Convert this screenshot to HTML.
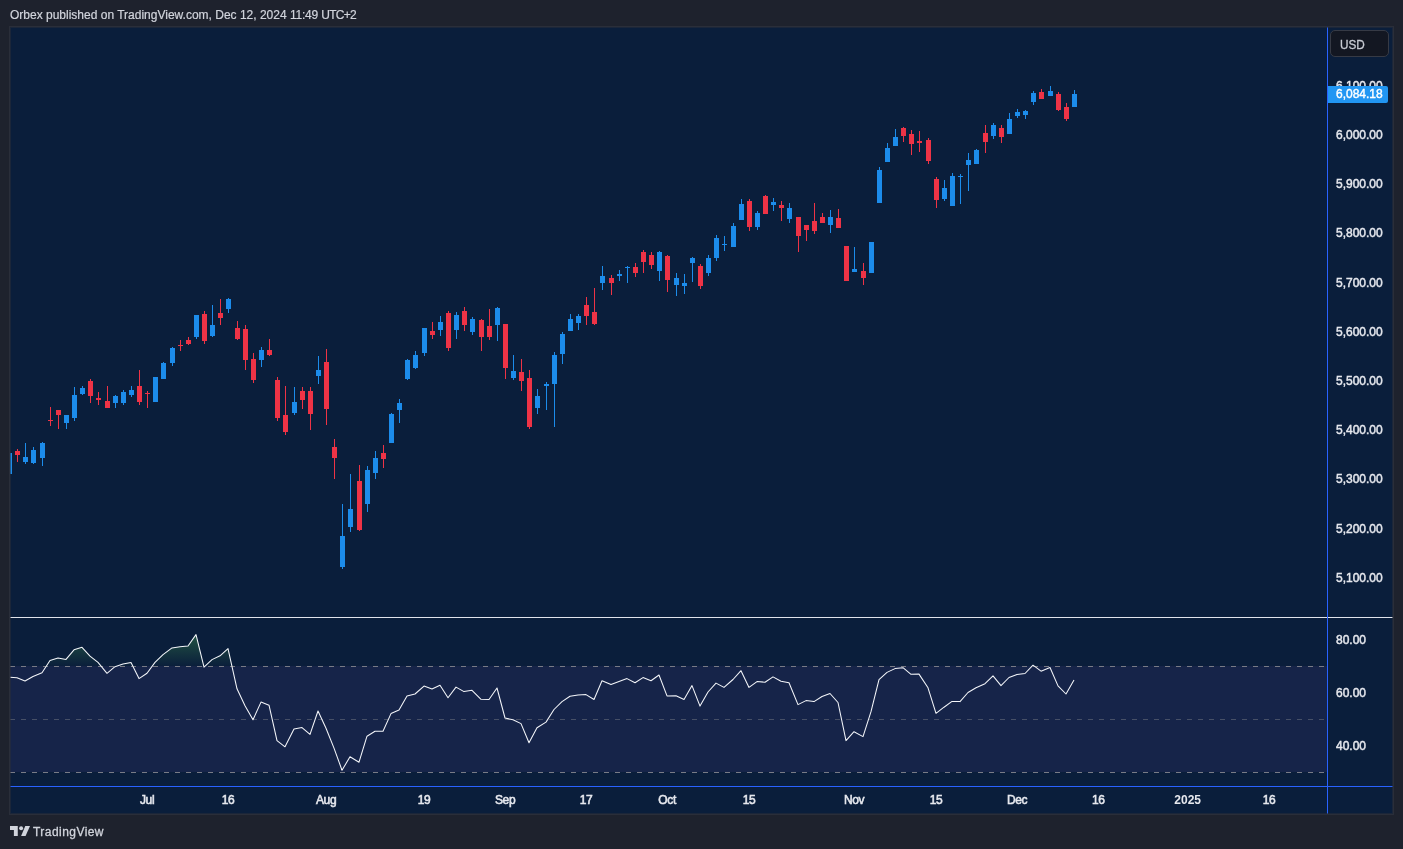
<!DOCTYPE html>
<html lang="en"><head><meta charset="utf-8"><title>Orbex published on TradingView.com</title>
<style>
html,body{margin:0;padding:0}
body{width:1403px;height:849px;background:#1e222d;overflow:hidden;position:relative;font-family:"Liberation Sans",sans-serif;color:#d1d4dc}
.hdr{position:absolute;left:10px;top:8px;font-size:12px;line-height:14px;white-space:nowrap;color:#d1d4dc;-webkit-text-stroke:0.2px #d1d4dc}
.frame{position:absolute;left:9px;top:26px;width:1383px;height:787px;border:1px solid #2a2e39;background:#0a1e3b;overflow:hidden}
.frame svg{position:absolute;left:0;top:0}
.ring{position:absolute;left:0;top:0;width:1381px;height:785px;border:1px solid rgba(42,46,57,0.55);pointer-events:none}
.pl{position:absolute;left:1326px;width:47px;font-size:12px;line-height:14px;color:#e6e8ee;white-space:nowrap;-webkit-text-stroke:0.45px #e6e8ee}
.tl{position:absolute;top:766px;width:60px;margin-left:-30px;text-align:center;font-size:12px;line-height:14px;-webkit-text-stroke:0.55px #e6e8ee;color:#e6e8ee;white-space:nowrap;letter-spacing:-0.4px}
.tl.y{font-weight:bold;letter-spacing:0;-webkit-text-stroke:0}
.usd{position:absolute;left:1320px;top:3px;width:57px;height:25px;border:1px solid #363a45;border-radius:5px;background:#131722;font-size:13.5px;line-height:25px;color:#c9ccd4;box-sizing:content-box}
.usd span{position:absolute;left:8.5px;top:0.8px;transform:scaleX(0.87);transform-origin:left center;-webkit-text-stroke:0.3px #c9ccd4}
.last{position:absolute;left:1318px;top:59px;width:60px;height:17px;background:#2196f3;border-radius:0 2px 2px 0;color:#fff;font-size:12px;line-height:17px;-webkit-text-stroke:0.4px #fff}
.last span{position:absolute;left:8px;top:0}
.foot{position:absolute;left:33px;top:824px;font-size:12px;line-height:16px;color:#d1d4dc;white-space:nowrap;letter-spacing:0.45px;-webkit-text-stroke:0.3px #d1d4dc}
.logo{position:absolute;left:10px;top:826px}
</style></head><body>
<div class="hdr">Orbex published on TradingView.com, Dec 12, 2024 <span style="letter-spacing:-0.25px">11:49</span> <span style="letter-spacing:-0.7px">UTC+2</span></div>
<div class="frame">

<svg width="1383" height="787" viewBox="0 0 1383 787">
<defs><linearGradient id="ob" x1="0" y1="560" x2="0" y2="639.5" gradientUnits="userSpaceOnUse"><stop offset="0" stop-color="#4caf50" stop-opacity="0.9"/><stop offset="1" stop-color="#4caf50" stop-opacity="0"/></linearGradient><clipPath id="cp"><rect x="0" y="590" width="1317" height="49"/></clipPath></defs>
<rect x="0" y="639" width="1317" height="106" fill="#162449"/>
<path d="M-1.0,639.5 L-1.0,650.1 L7.0,650.8 L15.0,654.0 L23.0,649.5 L32.0,645.8 L40.0,633.5 L48.0,631.1 L56.0,632.4 L64.0,622.8 L72.0,620.3 L80.0,629.2 L88.0,635.4 L97.0,646.3 L105.0,639.7 L113.0,637.1 L121.0,635.6 L129.0,651.6 L137.0,646.3 L145.0,635.4 L153.0,627.7 L162.0,620.9 L170.0,619.8 L178.0,619.0 L186.0,607.6 L194.0,640.1 L202.0,632.6 L210.0,628.8 L218.0,621.6 L227.0,661.8 L235.0,678.7 L243.0,692.8 L251.0,675.1 L259.0,678.2 L267.0,713.6 L275.0,719.8 L284.0,701.9 L292.0,700.6 L300.0,707.4 L308.0,684.0 L316.0,701.3 L324.0,721.1 L332.0,743.2 L340.0,729.8 L349.0,735.2 L357.0,709.2 L365.0,704.3 L373.0,704.3 L381.0,686.6 L389.0,683.1 L397.0,668.9 L405.0,667.0 L414.0,659.1 L422.0,662.0 L430.0,658.2 L438.0,670.8 L446.0,660.1 L454.0,664.6 L462.0,663.3 L471.0,672.3 L479.0,672.5 L487.0,661.0 L495.0,691.0 L503.0,692.8 L511.0,696.6 L519.0,715.8 L527.0,700.8 L536.0,695.1 L544.0,682.5 L552.0,674.6 L560.0,669.3 L568.0,668.0 L576.0,667.6 L584.0,672.5 L592.0,653.7 L601.0,657.6 L609.0,654.4 L617.0,651.6 L625.0,655.7 L633.0,650.6 L641.0,653.7 L649.0,648.0 L657.0,668.9 L666.0,668.7 L674.0,672.5 L682.0,658.6 L690.0,679.1 L698.0,665.0 L706.0,656.1 L714.0,660.4 L723.0,652.5 L731.0,643.7 L739.0,660.4 L747.0,654.6 L755.0,655.2 L763.0,649.9 L771.0,654.2 L779.0,655.7 L788.0,677.6 L796.0,673.6 L804.0,674.6 L812.0,669.5 L820.0,666.5 L828.0,675.5 L836.0,713.6 L844.0,704.7 L853.0,709.6 L861.0,684.7 L869.0,652.7 L877.0,645.4 L885.0,641.6 L893.0,640.7 L901.0,647.3 L909.0,647.1 L918.0,660.8 L926.0,686.3 L934.0,680.2 L942.0,674.4 L950.0,674.6 L958.0,665.5 L966.0,660.8 L975.0,656.7 L983.0,648.8 L991.0,658.6 L999.0,650.5 L1007.0,647.4 L1015.0,646.5 L1023.0,638.2 L1031.0,644.2 L1040.0,640.5 L1048.0,658.9 L1056.0,667.0 L1064.0,652.9 L1064.0,639.5 Z" fill="url(#ob)" clip-path="url(#cp)"/>
<line x1="0" y1="639.5" x2="1316" y2="639.5" stroke="#787b86" stroke-width="1" stroke-dasharray="5 6"/>
<line x1="0" y1="692.5" x2="1316" y2="692.5" stroke="rgba(120,123,134,0.5)" stroke-width="1" stroke-dasharray="5 6"/>
<line x1="0" y1="745.5" x2="1316" y2="745.5" stroke="#787b86" stroke-width="1" stroke-dasharray="5 6"/>
<polyline fill="none" stroke="#f4f6fa" stroke-width="1.05" stroke-linejoin="round" points="-1.0,650.1 7.0,650.8 15.0,654.0 23.0,649.5 32.0,645.8 40.0,633.5 48.0,631.1 56.0,632.4 64.0,622.8 72.0,620.3 80.0,629.2 88.0,635.4 97.0,646.3 105.0,639.7 113.0,637.1 121.0,635.6 129.0,651.6 137.0,646.3 145.0,635.4 153.0,627.7 162.0,620.9 170.0,619.8 178.0,619.0 186.0,607.6 194.0,640.1 202.0,632.6 210.0,628.8 218.0,621.6 227.0,661.8 235.0,678.7 243.0,692.8 251.0,675.1 259.0,678.2 267.0,713.6 275.0,719.8 284.0,701.9 292.0,700.6 300.0,707.4 308.0,684.0 316.0,701.3 324.0,721.1 332.0,743.2 340.0,729.8 349.0,735.2 357.0,709.2 365.0,704.3 373.0,704.3 381.0,686.6 389.0,683.1 397.0,668.9 405.0,667.0 414.0,659.1 422.0,662.0 430.0,658.2 438.0,670.8 446.0,660.1 454.0,664.6 462.0,663.3 471.0,672.3 479.0,672.5 487.0,661.0 495.0,691.0 503.0,692.8 511.0,696.6 519.0,715.8 527.0,700.8 536.0,695.1 544.0,682.5 552.0,674.6 560.0,669.3 568.0,668.0 576.0,667.6 584.0,672.5 592.0,653.7 601.0,657.6 609.0,654.4 617.0,651.6 625.0,655.7 633.0,650.6 641.0,653.7 649.0,648.0 657.0,668.9 666.0,668.7 674.0,672.5 682.0,658.6 690.0,679.1 698.0,665.0 706.0,656.1 714.0,660.4 723.0,652.5 731.0,643.7 739.0,660.4 747.0,654.6 755.0,655.2 763.0,649.9 771.0,654.2 779.0,655.7 788.0,677.6 796.0,673.6 804.0,674.6 812.0,669.5 820.0,666.5 828.0,675.5 836.0,713.6 844.0,704.7 853.0,709.6 861.0,684.7 869.0,652.7 877.0,645.4 885.0,641.6 893.0,640.7 901.0,647.3 909.0,647.1 918.0,660.8 926.0,686.3 934.0,680.2 942.0,674.4 950.0,674.6 958.0,665.5 966.0,660.8 975.0,656.7 983.0,648.8 991.0,658.6 999.0,650.5 1007.0,647.4 1015.0,646.5 1023.0,638.2 1031.0,644.2 1040.0,640.5 1048.0,658.9 1056.0,667.0 1064.0,652.9"/>
<g shape-rendering="crispEdges"><rect x="-1" y="426" width="1" height="21" fill="#1c8ceb"/><rect x="-3" y="426" width="5" height="21" fill="#1c8ceb"/><rect x="7" y="422" width="1" height="13" fill="#ee3346"/><rect x="5" y="424" width="5" height="4" fill="#ee3346"/><rect x="15" y="416" width="1" height="21" fill="#1c8ceb"/><rect x="13" y="430" width="5" height="5" fill="#1c8ceb"/><rect x="23" y="420" width="1" height="17" fill="#1c8ceb"/><rect x="21" y="423" width="5" height="13" fill="#1c8ceb"/><rect x="32" y="415" width="1" height="24" fill="#1c8ceb"/><rect x="30" y="416" width="5" height="15" fill="#1c8ceb"/><rect x="40" y="380" width="1" height="19" fill="#ee3346"/><rect x="38" y="393" width="5" height="1" fill="#ee3346"/><rect x="48" y="383" width="1" height="19" fill="#ee3346"/><rect x="46" y="383" width="5" height="5" fill="#ee3346"/><rect x="56" y="388" width="1" height="14" fill="#1c8ceb"/><rect x="54" y="388" width="5" height="8" fill="#1c8ceb"/><rect x="64" y="360" width="1" height="34" fill="#1c8ceb"/><rect x="62" y="368" width="5" height="23" fill="#1c8ceb"/><rect x="72" y="359" width="1" height="9" fill="#1c8ceb"/><rect x="70" y="361" width="5" height="6" fill="#1c8ceb"/><rect x="80" y="352" width="1" height="24" fill="#ee3346"/><rect x="78" y="354" width="5" height="15" fill="#ee3346"/><rect x="88" y="365" width="1" height="13" fill="#ee3346"/><rect x="86" y="371" width="5" height="2" fill="#ee3346"/><rect x="97" y="359" width="1" height="22" fill="#ee3346"/><rect x="95" y="374" width="5" height="7" fill="#ee3346"/><rect x="105" y="368" width="1" height="13" fill="#1c8ceb"/><rect x="103" y="369" width="5" height="7" fill="#1c8ceb"/><rect x="113" y="363" width="1" height="15" fill="#1c8ceb"/><rect x="111" y="365" width="5" height="11" fill="#1c8ceb"/><rect x="121" y="359" width="1" height="11" fill="#1c8ceb"/><rect x="119" y="363" width="5" height="5" fill="#1c8ceb"/><rect x="129" y="343" width="1" height="35" fill="#ee3346"/><rect x="127" y="359" width="5" height="16" fill="#ee3346"/><rect x="137" y="364" width="1" height="17" fill="#ee3346"/><rect x="135" y="366" width="5" height="1" fill="#ee3346"/><rect x="145" y="350" width="1" height="25" fill="#1c8ceb"/><rect x="143" y="350" width="5" height="25" fill="#1c8ceb"/><rect x="153" y="335" width="1" height="17" fill="#1c8ceb"/><rect x="151" y="336" width="5" height="16" fill="#1c8ceb"/><rect x="162" y="320" width="1" height="19" fill="#1c8ceb"/><rect x="160" y="321" width="5" height="15" fill="#1c8ceb"/><rect x="170" y="313" width="1" height="11" fill="#ee3346"/><rect x="168" y="318" width="5" height="1" fill="#ee3346"/><rect x="178" y="310" width="1" height="8" fill="#ee3346"/><rect x="176" y="313" width="5" height="4" fill="#ee3346"/><rect x="186" y="288" width="1" height="24" fill="#1c8ceb"/><rect x="184" y="288" width="5" height="22" fill="#1c8ceb"/><rect x="194" y="284" width="1" height="33" fill="#ee3346"/><rect x="192" y="287" width="5" height="27" fill="#ee3346"/><rect x="202" y="278" width="1" height="32" fill="#1c8ceb"/><rect x="200" y="298" width="5" height="11" fill="#1c8ceb"/><rect x="210" y="272" width="1" height="26" fill="#ee3346"/><rect x="208" y="286" width="5" height="5" fill="#ee3346"/><rect x="218" y="271" width="1" height="15" fill="#1c8ceb"/><rect x="216" y="272" width="5" height="10" fill="#1c8ceb"/><rect x="227" y="294" width="1" height="19" fill="#ee3346"/><rect x="225" y="301" width="5" height="11" fill="#ee3346"/><rect x="235" y="298" width="1" height="45" fill="#ee3346"/><rect x="233" y="302" width="5" height="31" fill="#ee3346"/><rect x="243" y="326" width="1" height="30" fill="#ee3346"/><rect x="241" y="332" width="5" height="21" fill="#ee3346"/><rect x="251" y="320" width="1" height="20" fill="#1c8ceb"/><rect x="249" y="323" width="5" height="10" fill="#1c8ceb"/><rect x="259" y="312" width="1" height="17" fill="#ee3346"/><rect x="257" y="323" width="5" height="5" fill="#ee3346"/><rect x="267" y="350" width="1" height="44" fill="#ee3346"/><rect x="265" y="353" width="5" height="38" fill="#ee3346"/><rect x="275" y="359" width="1" height="49" fill="#ee3346"/><rect x="273" y="388" width="5" height="17" fill="#ee3346"/><rect x="284" y="360" width="1" height="28" fill="#1c8ceb"/><rect x="282" y="375" width="5" height="11" fill="#1c8ceb"/><rect x="292" y="360" width="1" height="22" fill="#ee3346"/><rect x="290" y="364" width="5" height="9" fill="#ee3346"/><rect x="300" y="360" width="1" height="43" fill="#ee3346"/><rect x="298" y="364" width="5" height="23" fill="#ee3346"/><rect x="308" y="329" width="1" height="28" fill="#1c8ceb"/><rect x="306" y="343" width="5" height="6" fill="#1c8ceb"/><rect x="316" y="322" width="1" height="76" fill="#ee3346"/><rect x="314" y="335" width="5" height="47" fill="#ee3346"/><rect x="324" y="412" width="1" height="40" fill="#ee3346"/><rect x="322" y="420" width="5" height="11" fill="#ee3346"/><rect x="332" y="477" width="1" height="65" fill="#1c8ceb"/><rect x="330" y="509" width="5" height="31" fill="#1c8ceb"/><rect x="340" y="447" width="1" height="58" fill="#1c8ceb"/><rect x="338" y="482" width="5" height="18" fill="#1c8ceb"/><rect x="349" y="438" width="1" height="66" fill="#ee3346"/><rect x="347" y="454" width="5" height="49" fill="#ee3346"/><rect x="357" y="439" width="1" height="46" fill="#1c8ceb"/><rect x="355" y="443" width="5" height="34" fill="#1c8ceb"/><rect x="365" y="424" width="1" height="28" fill="#1c8ceb"/><rect x="363" y="431" width="5" height="15" fill="#1c8ceb"/><rect x="373" y="418" width="1" height="23" fill="#ee3346"/><rect x="371" y="426" width="5" height="6" fill="#ee3346"/><rect x="381" y="386" width="1" height="30" fill="#1c8ceb"/><rect x="379" y="387" width="5" height="29" fill="#1c8ceb"/><rect x="389" y="372" width="1" height="24" fill="#1c8ceb"/><rect x="387" y="376" width="5" height="7" fill="#1c8ceb"/><rect x="397" y="332" width="1" height="21" fill="#1c8ceb"/><rect x="395" y="333" width="5" height="19" fill="#1c8ceb"/><rect x="405" y="324" width="1" height="18" fill="#1c8ceb"/><rect x="403" y="328" width="5" height="13" fill="#1c8ceb"/><rect x="414" y="301" width="1" height="28" fill="#1c8ceb"/><rect x="412" y="301" width="5" height="25" fill="#1c8ceb"/><rect x="422" y="295" width="1" height="17" fill="#ee3346"/><rect x="420" y="304" width="5" height="4" fill="#ee3346"/><rect x="430" y="289" width="1" height="20" fill="#1c8ceb"/><rect x="428" y="295" width="5" height="8" fill="#1c8ceb"/><rect x="438" y="284" width="1" height="40" fill="#ee3346"/><rect x="436" y="286" width="5" height="35" fill="#ee3346"/><rect x="446" y="285" width="1" height="27" fill="#1c8ceb"/><rect x="444" y="288" width="5" height="15" fill="#1c8ceb"/><rect x="454" y="280" width="1" height="24" fill="#ee3346"/><rect x="452" y="284" width="5" height="14" fill="#ee3346"/><rect x="462" y="290" width="1" height="18" fill="#1c8ceb"/><rect x="460" y="292" width="5" height="13" fill="#1c8ceb"/><rect x="471" y="292" width="1" height="32" fill="#ee3346"/><rect x="469" y="293" width="5" height="17" fill="#ee3346"/><rect x="479" y="282" width="1" height="31" fill="#ee3346"/><rect x="477" y="299" width="5" height="11" fill="#ee3346"/><rect x="487" y="280" width="1" height="34" fill="#1c8ceb"/><rect x="485" y="281" width="5" height="17" fill="#1c8ceb"/><rect x="495" y="297" width="1" height="55" fill="#ee3346"/><rect x="493" y="297" width="5" height="44" fill="#ee3346"/><rect x="503" y="328" width="1" height="25" fill="#1c8ceb"/><rect x="501" y="344" width="5" height="7" fill="#1c8ceb"/><rect x="511" y="332" width="1" height="32" fill="#ee3346"/><rect x="509" y="345" width="5" height="9" fill="#ee3346"/><rect x="519" y="343" width="1" height="59" fill="#ee3346"/><rect x="517" y="351" width="5" height="49" fill="#ee3346"/><rect x="527" y="362" width="1" height="25" fill="#1c8ceb"/><rect x="525" y="369" width="5" height="12" fill="#1c8ceb"/><rect x="536" y="355" width="1" height="28" fill="#1c8ceb"/><rect x="534" y="357" width="5" height="2" fill="#1c8ceb"/><rect x="544" y="325" width="1" height="75" fill="#1c8ceb"/><rect x="542" y="328" width="5" height="29" fill="#1c8ceb"/><rect x="552" y="305" width="1" height="32" fill="#1c8ceb"/><rect x="550" y="307" width="5" height="20" fill="#1c8ceb"/><rect x="560" y="287" width="1" height="17" fill="#1c8ceb"/><rect x="558" y="292" width="5" height="12" fill="#1c8ceb"/><rect x="568" y="287" width="1" height="16" fill="#1c8ceb"/><rect x="566" y="289" width="5" height="7" fill="#1c8ceb"/><rect x="576" y="270" width="1" height="28" fill="#ee3346"/><rect x="574" y="278" width="5" height="11" fill="#ee3346"/><rect x="584" y="261" width="1" height="37" fill="#ee3346"/><rect x="582" y="285" width="5" height="12" fill="#ee3346"/><rect x="592" y="239" width="1" height="24" fill="#1c8ceb"/><rect x="590" y="249" width="5" height="7" fill="#1c8ceb"/><rect x="601" y="248" width="1" height="20" fill="#ee3346"/><rect x="599" y="251" width="5" height="5" fill="#ee3346"/><rect x="609" y="243" width="1" height="11" fill="#1c8ceb"/><rect x="607" y="247" width="5" height="2" fill="#1c8ceb"/><rect x="617" y="239" width="1" height="17" fill="#1c8ceb"/><rect x="615" y="240" width="5" height="1" fill="#1c8ceb"/><rect x="625" y="236" width="1" height="14" fill="#ee3346"/><rect x="623" y="240" width="5" height="6" fill="#ee3346"/><rect x="633" y="223" width="1" height="23" fill="#ee3346"/><rect x="631" y="225" width="5" height="10" fill="#ee3346"/><rect x="641" y="225" width="1" height="17" fill="#ee3346"/><rect x="639" y="228" width="5" height="10" fill="#ee3346"/><rect x="649" y="224" width="1" height="30" fill="#1c8ceb"/><rect x="647" y="225" width="5" height="19" fill="#1c8ceb"/><rect x="657" y="228" width="1" height="37" fill="#ee3346"/><rect x="655" y="229" width="5" height="24" fill="#ee3346"/><rect x="666" y="246" width="1" height="23" fill="#1c8ceb"/><rect x="664" y="251" width="5" height="7" fill="#1c8ceb"/><rect x="674" y="247" width="1" height="20" fill="#1c8ceb"/><rect x="672" y="256" width="5" height="3" fill="#1c8ceb"/><rect x="682" y="230" width="1" height="25" fill="#1c8ceb"/><rect x="680" y="231" width="5" height="5" fill="#1c8ceb"/><rect x="690" y="237" width="1" height="25" fill="#ee3346"/><rect x="688" y="239" width="5" height="20" fill="#ee3346"/><rect x="698" y="228" width="1" height="21" fill="#1c8ceb"/><rect x="696" y="231" width="5" height="15" fill="#1c8ceb"/><rect x="706" y="208" width="1" height="26" fill="#1c8ceb"/><rect x="704" y="211" width="5" height="20" fill="#1c8ceb"/><rect x="714" y="209" width="1" height="15" fill="#1c8ceb"/><rect x="712" y="217" width="5" height="1" fill="#1c8ceb"/><rect x="723" y="196" width="1" height="24" fill="#1c8ceb"/><rect x="721" y="199" width="5" height="21" fill="#1c8ceb"/><rect x="731" y="172" width="1" height="21" fill="#1c8ceb"/><rect x="729" y="177" width="5" height="16" fill="#1c8ceb"/><rect x="739" y="172" width="1" height="32" fill="#ee3346"/><rect x="737" y="174" width="5" height="26" fill="#ee3346"/><rect x="747" y="184" width="1" height="19" fill="#1c8ceb"/><rect x="745" y="186" width="5" height="14" fill="#1c8ceb"/><rect x="755" y="168" width="1" height="19" fill="#ee3346"/><rect x="753" y="169" width="5" height="18" fill="#ee3346"/><rect x="763" y="171" width="1" height="13" fill="#1c8ceb"/><rect x="761" y="175" width="5" height="3" fill="#1c8ceb"/><rect x="771" y="174" width="1" height="20" fill="#ee3346"/><rect x="769" y="178" width="5" height="3" fill="#ee3346"/><rect x="779" y="176" width="1" height="20" fill="#1c8ceb"/><rect x="777" y="181" width="5" height="11" fill="#1c8ceb"/><rect x="788" y="190" width="1" height="35" fill="#ee3346"/><rect x="786" y="190" width="5" height="19" fill="#ee3346"/><rect x="796" y="198" width="1" height="16" fill="#ee3346"/><rect x="794" y="198" width="5" height="5" fill="#ee3346"/><rect x="804" y="176" width="1" height="31" fill="#ee3346"/><rect x="802" y="194" width="5" height="10" fill="#ee3346"/><rect x="812" y="186" width="1" height="10" fill="#ee3346"/><rect x="810" y="190" width="5" height="6" fill="#ee3346"/><rect x="820" y="183" width="1" height="23" fill="#1c8ceb"/><rect x="818" y="190" width="5" height="8" fill="#1c8ceb"/><rect x="828" y="182" width="1" height="19" fill="#ee3346"/><rect x="826" y="191" width="5" height="10" fill="#ee3346"/><rect x="836" y="219" width="1" height="35" fill="#ee3346"/><rect x="834" y="219" width="5" height="35" fill="#ee3346"/><rect x="844" y="220" width="1" height="25" fill="#1c8ceb"/><rect x="842" y="242" width="5" height="3" fill="#1c8ceb"/><rect x="853" y="236" width="1" height="22" fill="#ee3346"/><rect x="851" y="244" width="5" height="7" fill="#ee3346"/><rect x="861" y="215" width="1" height="31" fill="#1c8ceb"/><rect x="859" y="215" width="5" height="31" fill="#1c8ceb"/><rect x="869" y="140" width="1" height="36" fill="#1c8ceb"/><rect x="867" y="143" width="5" height="33" fill="#1c8ceb"/><rect x="877" y="116" width="1" height="19" fill="#1c8ceb"/><rect x="875" y="121" width="5" height="14" fill="#1c8ceb"/><rect x="885" y="102" width="1" height="17" fill="#1c8ceb"/><rect x="883" y="110" width="5" height="9" fill="#1c8ceb"/><rect x="893" y="100" width="1" height="15" fill="#ee3346"/><rect x="891" y="101" width="5" height="8" fill="#ee3346"/><rect x="901" y="103" width="1" height="25" fill="#ee3346"/><rect x="899" y="107" width="5" height="10" fill="#ee3346"/><rect x="909" y="104" width="1" height="21" fill="#ee3346"/><rect x="907" y="114" width="5" height="2" fill="#ee3346"/><rect x="918" y="111" width="1" height="26" fill="#ee3346"/><rect x="916" y="113" width="5" height="21" fill="#ee3346"/><rect x="926" y="150" width="1" height="31" fill="#ee3346"/><rect x="924" y="152" width="5" height="21" fill="#ee3346"/><rect x="934" y="153" width="1" height="21" fill="#1c8ceb"/><rect x="932" y="161" width="5" height="11" fill="#1c8ceb"/><rect x="942" y="146" width="1" height="33" fill="#1c8ceb"/><rect x="940" y="149" width="5" height="30" fill="#1c8ceb"/><rect x="950" y="147" width="1" height="30" fill="#1c8ceb"/><rect x="948" y="149" width="5" height="1" fill="#1c8ceb"/><rect x="958" y="126" width="1" height="38" fill="#1c8ceb"/><rect x="956" y="133" width="5" height="5" fill="#1c8ceb"/><rect x="966" y="122" width="1" height="15" fill="#1c8ceb"/><rect x="964" y="123" width="5" height="14" fill="#1c8ceb"/><rect x="975" y="98" width="1" height="28" fill="#ee3346"/><rect x="973" y="106" width="5" height="9" fill="#ee3346"/><rect x="983" y="96" width="1" height="16" fill="#1c8ceb"/><rect x="981" y="98" width="5" height="11" fill="#1c8ceb"/><rect x="991" y="98" width="1" height="18" fill="#ee3346"/><rect x="989" y="101" width="5" height="9" fill="#ee3346"/><rect x="999" y="86" width="1" height="21" fill="#1c8ceb"/><rect x="997" y="92" width="5" height="15" fill="#1c8ceb"/><rect x="1007" y="82" width="1" height="9" fill="#1c8ceb"/><rect x="1005" y="85" width="5" height="4" fill="#1c8ceb"/><rect x="1015" y="83" width="1" height="9" fill="#1c8ceb"/><rect x="1013" y="84" width="5" height="4" fill="#1c8ceb"/><rect x="1023" y="64" width="1" height="14" fill="#1c8ceb"/><rect x="1021" y="66" width="5" height="9" fill="#1c8ceb"/><rect x="1031" y="62" width="1" height="10" fill="#ee3346"/><rect x="1029" y="65" width="5" height="7" fill="#ee3346"/><rect x="1040" y="59" width="1" height="10" fill="#1c8ceb"/><rect x="1038" y="64" width="5" height="5" fill="#1c8ceb"/><rect x="1048" y="65" width="1" height="19" fill="#ee3346"/><rect x="1046" y="67" width="5" height="16" fill="#ee3346"/><rect x="1056" y="76" width="1" height="18" fill="#ee3346"/><rect x="1054" y="80" width="5" height="12" fill="#ee3346"/><rect x="1064" y="63" width="1" height="17" fill="#1c8ceb"/><rect x="1062" y="67" width="5" height="13" fill="#1c8ceb"/></g>
<g shape-rendering="crispEdges">
<rect x="0" y="590" width="1383" height="1" fill="#e0e3eb"/>
<rect x="1317" y="0" width="1" height="787" fill="#2962ff"/>
<rect x="0" y="759" width="1383" height="1" fill="#2962ff"/>
</g>
</svg>
<div class="pl" style="top:51.6px">6,100.00</div>
<div class="pl" style="top:100.8px">6,000.00</div>
<div class="pl" style="top:150.1px">5,900.00</div>
<div class="pl" style="top:199.3px">5,800.00</div>
<div class="pl" style="top:248.5px">5,700.00</div>
<div class="pl" style="top:297.7px">5,600.00</div>
<div class="pl" style="top:347.0px">5,500.00</div>
<div class="pl" style="top:396.2px">5,400.00</div>
<div class="pl" style="top:445.4px">5,300.00</div>
<div class="pl" style="top:494.6px">5,200.00</div>
<div class="pl" style="top:543.9px">5,100.00</div>
<div class="pl" style="top:606.1px">80.00</div>
<div class="pl" style="top:659.1px">60.00</div>
<div class="pl" style="top:712.1px">40.00</div>
<div class="last"><span>6,084.18</span></div>
<div class="usd"><span>USD</span></div>
<div class="tl" style="left:137.1px">Jul</div>
<div class="tl" style="left:218.1px">16</div>
<div class="tl" style="left:316.1px">Aug</div>
<div class="tl" style="left:414.1px">19</div>
<div class="tl" style="left:495.1px">Sep</div>
<div class="tl" style="left:576.1px">17</div>
<div class="tl" style="left:657.1px">Oct</div>
<div class="tl" style="left:739.1px">15</div>
<div class="tl" style="left:844.1px">Nov</div>
<div class="tl" style="left:926.1px">15</div>
<div class="tl" style="left:1007.1px">Dec</div>
<div class="tl" style="left:1088.3px">16</div>
<div class="tl y" style="left:1177.7px">2025</div>
<div class="tl" style="left:1259.0px">16</div>
<div class="ring"></div></div>
<svg class="logo" width="20" height="10" viewBox="0 0 36 18"><path fill="#d1d4dc" d="M14 18H7V7H0V0h14v18z"/><circle cx="20" cy="4" r="3.6" fill="#d1d4dc"/><path fill="#d1d4dc" d="M28 18h-8L27.500 0H36l-8 18z"/></svg>
<div class="foot">TradingView</div>
</body></html>
